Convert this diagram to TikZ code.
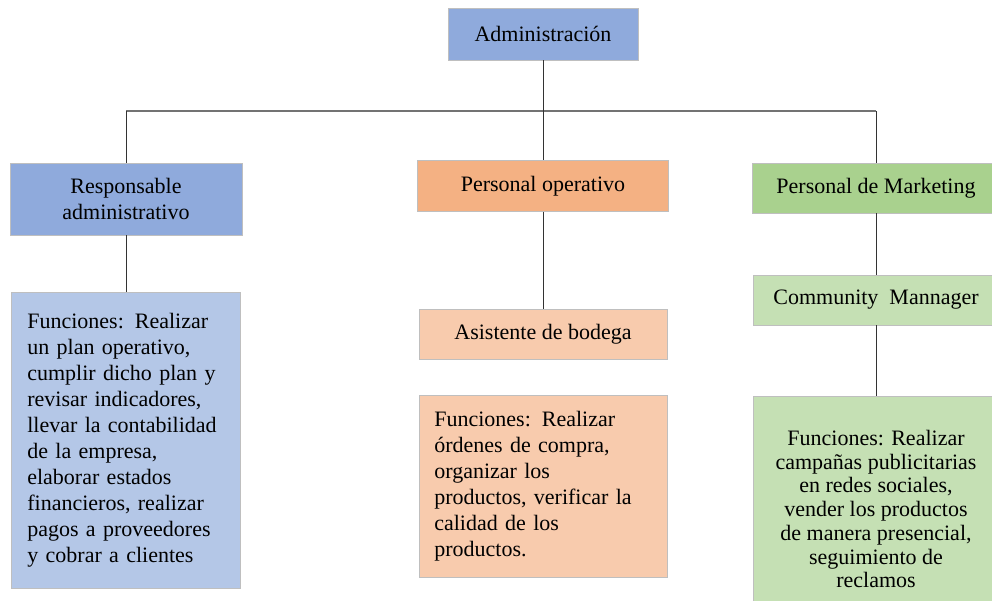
\documentclass[tikz,border=0pt]{standalone}
\usepackage{fontspec}
\setmainfont{Liberation Serif}
\usetikzlibrary{calc}
\definecolor{bluedark}{HTML}{8FAADC}
\definecolor{bluelight}{HTML}{B4C7E7}
\definecolor{orangedark}{HTML}{F4B183}
\definecolor{orangelight}{HTML}{F8CBAD}
\definecolor{greendark}{HTML}{A9D18E}
\definecolor{greenlight}{HTML}{C5E0B4}
\definecolor{boxline}{HTML}{BFBFBF}
\tikzset{
  blk/.style={draw=boxline,line width=0.6pt,rectangle,inner sep=2pt,align=center,
    font=\fontsize{16.5}{19.5}\selectfont},
  admblk/.style={blk,fill=bluedark},
  admfun/.style={blk,fill=bluelight,align=left},
  opblk/.style={blk,fill=orangedark},
  opsub/.style={blk,fill=orangelight},
  mkblk/.style={blk,fill=greendark},
  mksub/.style={blk,fill=greenlight},
  link/.style={black!80,line width=0.75pt},
  hbar/.style={black!55,line width=1.2pt}
}
\begin{document}
\begin{tikzpicture}[x=0.75pt,y=-0.75pt]
  \useasboundingbox (0,0) rectangle (992,600);
  % Top level
  \node[admblk, minimum width=142.5pt, minimum height=39pt] (admin) at (543,34) {Administración};
  \coordinate (bus) at (543,111);

  % Left column
  \node[admblk, minimum width=174pt, minimum height=54pt] (resp) at (126,199) {Responsable\\administrativo};
  \node[admfun, text width=148pt, minimum width=172pt, minimum height=222pt] (fleft) at (126,440)
    {Funciones: Realizar\\un plan operativo,\\cumplir dicho plan y\\revisar indicadores,\\llevar la contabilidad\\de la empresa,\\elaborar estados\\financieros, realizar\\pagos a proveedores\\y cobrar a clientes};

  % Middle column
  \node[opblk, minimum width=188pt, minimum height=38pt] (oper) at (543,186) {Personal operativo};
  \node[opsub, minimum width=186pt, minimum height=37.5pt] (asist) at (543,334) {Asistente de bodega};
  \node[opsub, align=left, text width=163pt, minimum width=186pt, minimum height=136pt] (fmid) at (543,486.5)
    {Funciones: Realizar\\órdenes de compra,\\organizar los\\productos, verificar la\\calidad de los\\productos.};

  % Right column (runs off the page)
  \node[mkblk, minimum width=186pt, minimum height=37.5pt] (mkt) at (876,188) {Personal de Marketing};
  \node[mksub, minimum width=184.5pt, minimum height=37.5pt] (cm) at (876,300) {Community~ Mannager};
  \node[mksub, minimum width=184.5pt, minimum height=169.5pt,
    font=\fontsize{16.5}{17.8}\selectfont] (fright) at (876,509)
    {Funciones: Realizar\\campañas publicitarias\\en redes sociales,\\vender los productos\\de manera presencial,\\seguimiento de\\reclamos};

  % Connectors
  \draw[hbar] (resp.north |- bus) -- (mkt.north |- bus);
  \draw[link] (resp.north) -- (resp.north |- bus);
  \draw[link] (mkt.north) -- (mkt.north |- bus);
  \draw[link] (admin.south) -- (oper.north);
  \draw[link] (resp.south) -- (fleft.north);
  \draw[link] (oper.south) -- (asist.north);
  \draw[link] (mkt.south) -- (cm.north);
  \draw[link] (cm.south) -- (fright.north);
\end{tikzpicture}
\end{document}
